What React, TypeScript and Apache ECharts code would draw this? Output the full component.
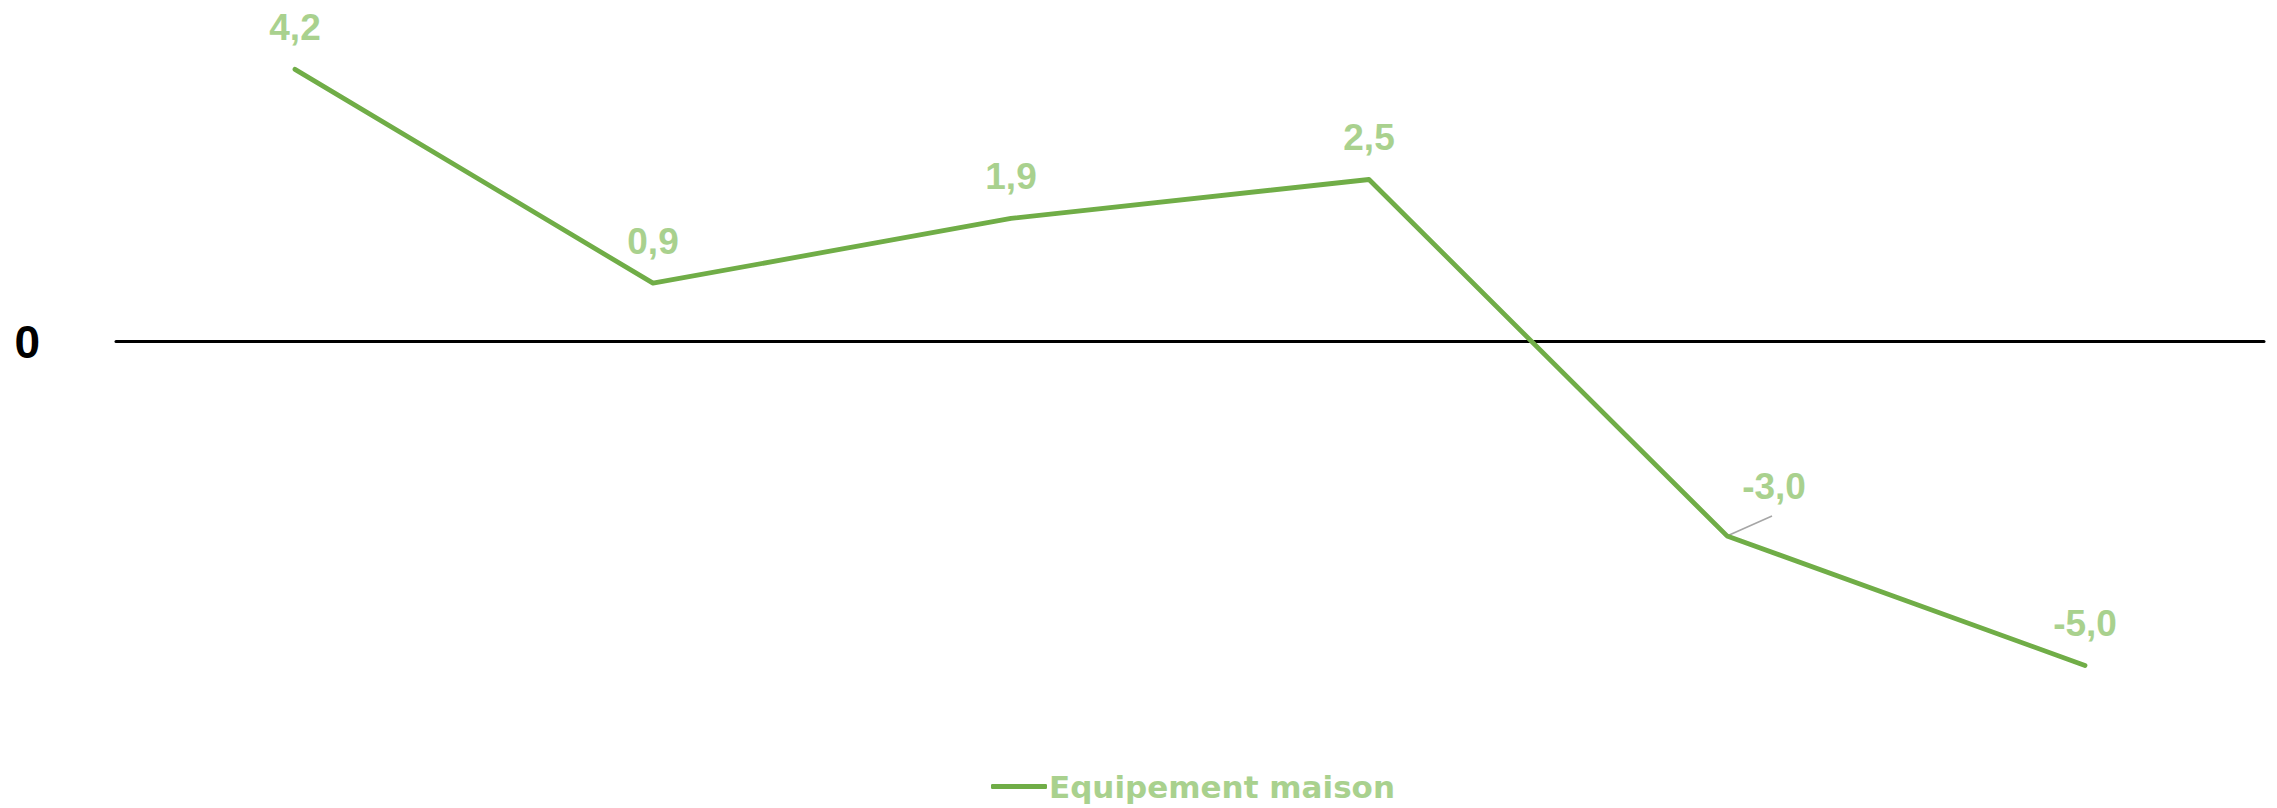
import React, { useEffect, useRef } from "react";
import * as echarts from "echarts";

// Monthly change, Equipement maison
const categories = ["1", "2", "3", "4", "5", "6"];
const seriesName = "Equipement maison";
const values = [4.2, 0.9, 1.9, 2.5, -3.0, -5.0];
const yTicks = { min: -6, max: 5, interval: 1 };

const LINE_GREEN = "#70AD47";
const LABEL_GREEN = "#A9D18E";
const LEADER_GREY = "#A6A6A6";

// the one label that sits beside its point, with a leader line
const MOVED_INDEX = 4;
const MOVED_SHIFT = { dx: 47, dy: -8 };
const LEADER_VECTOR = [45, -20];

export default function App() {
  const ref = useRef<HTMLDivElement>(null);

  useEffect(() => {
    if (!ref.current) return;
    const chart = echarts.init(ref.current, undefined, { renderer: "svg" });

    chart.setOption({
      animation: false,
      backgroundColor: "#ffffff",
      grid: { left: 116, right: 13, top: 17.5, height: 712.8 },
      xAxis: {
        type: "category",
        data: categories,
        boundaryGap: true,
        axisLine: { show: true, onZero: true, lineStyle: { color: "#000000", width: 3 } },
        axisTick: { show: false },
        axisLabel: { show: false },
        splitLine: { show: false },
      },
      yAxis: {
        type: "value",
        min: yTicks.min,
        max: yTicks.max,
        interval: yTicks.interval,
        axisLine: { show: false },
        axisTick: { show: false },
        splitLine: { show: false },
        axisLabel: {
          margin: 76,
          color: "#000000",
          fontFamily: "Liberation Sans",
          fontWeight: "bold",
          fontSize: 46,
          formatter: (v: number) => (v === 0 ? "0" : ""),
        },
      },
      legend: {
        show: true,
        data: [seriesName],
        left: 986,
        top: 766,
        icon: "roundRect",
        itemWidth: 56,
        itemHeight: 5,
        itemGap: 10,
        textStyle: {
          color: LABEL_GREEN,
          fontFamily: "DejaVu Sans",
          fontWeight: "bold",
          fontSize: 31,
          padding: [0, 0, 0, -3],
        },
      },
      series: [
        {
          name: seriesName,
          type: "line",
          data: values,
          symbol: "circle",
          symbolSize: 0.1,
          showSymbol: true,
          itemStyle: { color: LINE_GREEN },
          lineStyle: { color: LINE_GREEN, width: 4.8, cap: "round", join: "round" },
          label: {
            show: true,
            position: "top",
            distance: 23,
            color: LABEL_GREEN,
            fontFamily: "Liberation Sans",
            fontWeight: "bold",
            fontSize: 37,
            formatter: (p: any) => Number(p.value).toFixed(1).replace(".", ","),
          },
          labelLayout: (p: any) =>
            p.dataIndex === MOVED_INDEX ? { dx: MOVED_SHIFT.dx, dy: MOVED_SHIFT.dy } : {},
        },
      ],
    });

    // leader line from the point to just below its shifted label
    const anchor = chart.convertToPixel({ seriesIndex: 0 }, [
      MOVED_INDEX,
      values[MOVED_INDEX],
    ]) as number[];
    chart.setOption({
      graphic: [
        {
          type: "line",
          silent: true,
          shape: {
            x1: anchor[0],
            y1: anchor[1],
            x2: anchor[0] + LEADER_VECTOR[0],
            y2: anchor[1] + LEADER_VECTOR[1],
          },
          style: { stroke: LEADER_GREY, lineWidth: 1.6 },
          z: 1,
        },
      ],
    });

    return () => chart.dispose();
  }, []);

  return (
    <div
      ref={ref}
      style={{ position: "fixed", left: 0, top: 0, width: 2277, height: 808 }}
    />
  );
}
